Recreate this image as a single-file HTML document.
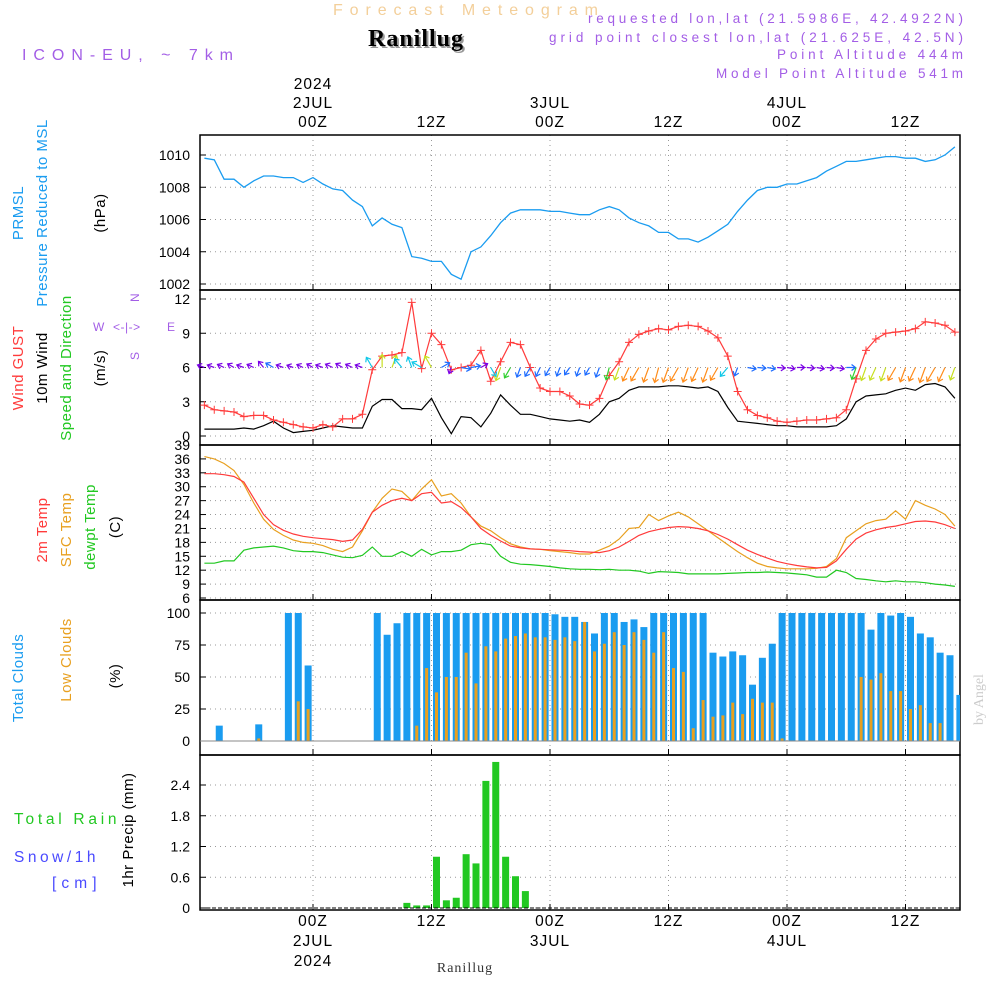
<!DOCTYPE html>
<html><head><meta charset="utf-8"><style>
body{margin:0;background:#fff;width:1000px;height:1000px;overflow:hidden}
svg{display:block;font-family:"Liberation Sans",sans-serif}
</style></head><body>
<svg id="chart" width="1000" height="1000" viewBox="0 0 1000 1000" xmlns="http://www.w3.org/2000/svg">
<text x="333" y="15" font-size="16" fill="#f3cf9a" textLength="265" lengthAdjust="spacing">Forecast Meteogram</text>
<text x="418" y="48" font-size="24" font-weight="bold" font-family="Liberation Serif,serif" fill="#999" text-anchor="middle" letter-spacing="1">Ranillug</text>
<text x="416" y="46" font-size="24" font-weight="bold" font-family="Liberation Serif,serif" fill="#000" text-anchor="middle" letter-spacing="1">Ranillug</text>
<text x="22" y="60" font-size="16" fill="#a35ee6" textLength="211" lengthAdjust="spacing">ICON-EU, ~ 7km</text>
<g font-size="13.5" fill="#a35ee6">
<text x="588" y="23" textLength="375" lengthAdjust="spacing">requested lon,lat (21.5986E, 42.4922N)</text>
<text x="549" y="42" textLength="414" lengthAdjust="spacing">grid point closest lon,lat (21.625E, 42.5N)</text>
<text x="777" y="59" textLength="186" lengthAdjust="spacing">Point Altitude 444m</text>
<text x="716" y="78" textLength="247" lengthAdjust="spacing">Model Point Altitude 541m</text>
</g>
<text transform="translate(983,725) rotate(-90)" font-size="14" font-family="Liberation Serif,serif" fill="#ccc">by Angel</text>
<text x="465" y="972" font-size="14" font-family="Liberation Serif,serif" fill="#333" text-anchor="middle" letter-spacing="1">Ranillug</text>
<g id="labels" font-size="14.5" letter-spacing="0.5"></g>
<g id="plots"></g>
</svg>
<script>
const hours = Array.from({length:77},(_,i)=>i-11);
const pressure=[1009.8,1009.7,1008.5,1008.5,1008.0,1008.4,1008.7,1008.7,1008.6,1008.6,1008.3,1008.6,1008.2,1007.9,1007.8,1007.2,1006.8,1005.6,1006.1,1005.7,1005.5,1003.7,1003.6,1003.4,1003.4,1002.6,1002.3,1004.0,1004.3,1005.0,1005.8,1006.4,1006.6,1006.6,1006.6,1006.5,1006.5,1006.4,1006.3,1006.3,1006.6,1006.8,1006.6,1006.1,1005.8,1005.6,1005.2,1005.2,1004.8,1004.8,1004.6,1004.9,1005.3,1005.7,1006.5,1007.2,1007.8,1008.0,1008.0,1008.2,1008.2,1008.4,1008.6,1009.0,1009.3,1009.6,1009.6,1009.7,1009.8,1009.9,1009.9,1009.8,1009.8,1009.6,1009.7,1010.0,1010.5];
const windSpeed=[0.6,0.6,0.6,0.6,0.7,0.6,0.9,1.3,0.7,0.3,0.4,0.5,0.7,0.9,0.8,0.7,0.7,2.6,3.2,3.2,2.4,2.4,2.3,3.3,1.6,0.2,1.7,1.6,0.8,2.0,3.6,2.7,1.9,1.9,1.7,1.5,1.4,1.3,1.4,1.2,1.9,3.0,3.3,4.0,4.3,4.3,4.3,4.4,4.4,4.3,4.2,4.3,3.9,2.5,1.3,1.2,1.1,1.0,0.9,0.9,0.8,0.8,0.8,0.8,0.9,1.5,3.0,3.5,3.6,3.7,4.0,4.2,4.0,4.5,4.6,4.3,3.3];
const windGust=[2.7,2.3,2.2,2.1,1.7,1.8,1.8,1.4,1.2,1.0,0.8,0.7,1.0,0.8,1.5,1.5,1.9,5.8,7.0,7.1,7.3,11.7,5.9,9.0,8.0,5.8,6.0,6.2,7.5,4.8,6.5,8.2,8.0,6.0,4.2,3.9,3.9,3.5,2.8,2.7,3.3,5.3,6.5,8.2,8.9,9.2,9.4,9.3,9.6,9.7,9.6,9.2,8.6,7.0,3.9,2.3,1.8,1.6,1.3,1.2,1.3,1.4,1.4,1.5,1.6,2.3,5.0,7.5,8.5,9.0,9.1,9.2,9.4,10.0,9.9,9.7,9.1];
const windToDir=[290,290,295,300,290,295,320,300,290,290,295,300,290,295,300,295,290,330,0,20,320,340,300,330,60,200,100,80,60,150,200,210,200,210,205,210,200,215,200,210,200,195,200,205,210,200,195,200,210,200,205,200,210,220,200,100,95,100,95,100,90,95,100,95,100,90,200,200,205,200,210,200,205,200,210,205,200];
const temp2m=[32.8,32.8,32.6,32.2,31,27.5,24,21.8,20.6,19.8,19.3,19,18.8,18.6,18.2,18.5,20.8,24.5,26,27,27.5,27,28.5,28.8,26.5,26.8,25.5,23.5,21,19.5,18.3,17.2,16.8,16.6,16.5,16.4,16.3,16.2,16,15.9,15.8,16.2,17,18.2,19.5,20.3,20.8,21.2,21.4,21.3,21,20.5,19.7,18.7,17.5,16.3,15.4,14.6,13.9,13.4,13,12.7,12.5,12.6,14,16.5,18.7,20,20.7,21.2,21.5,22,22.5,22.6,22.4,21.8,21];
const tempSfc=[36.5,36,35,33.5,30.5,26.5,23,20.8,19.5,18.5,18,17.8,17.3,16.5,16,17,20.5,24.5,27.5,29.5,29,27,29.5,31.5,28,28.5,26.5,23.5,21.5,20.5,19,17.7,17,16.6,16.5,16.2,16,15.8,15.5,15.5,16.3,17.2,18.7,21,21.2,24,22.7,23.7,24.5,23.5,22,20.5,19,17.5,16,14.7,13.5,12.8,12.5,12.3,12.3,12.3,12.4,12.8,14.5,19,20.5,22,22.7,23,24.8,23,27,26,25.2,24,21.5];
const dewpoint=[13.5,13.5,14,14,16.3,16.8,17,17.2,16.8,16.2,16,16,15.8,15.3,14.8,14.7,15.2,17,15,15,16,15,16.5,15.3,16,16,16.3,17.5,17.8,17.5,15,13.7,13.3,13.2,13,12.8,12.5,12.3,12.2,12.2,12.1,12.2,12,12,11.8,11.3,11.7,11.6,11.5,11.2,11.2,11.2,11.2,11.3,11.4,11.5,11.5,11.6,11.5,11.4,11.2,11,10.5,10.5,12,11.5,10.2,10,9.7,9.5,9.7,9.5,9.5,9.3,9,8.8,8.5];
const totalClouds=[0,12,0,0,0,13,0,0,100,100,59,0,0,0,0,0,0,100,83,92,100,100,100,100,100,100,100,100,100,100,100,100,100,100,100,99,97,97,93,84,100,100,93,95,89,100,100,100,100,100,100,69,66,70,67,44,65,76,100,100,100,100,100,100,100,100,100,87,100,98,100,97,84,81,69,67,36,46];
const lowClouds=[0,0,0,0,0,2,0,0,0,31,25,0,0,0,0,0,0,0,0,0,0,12,57,38,50,50,69,45,74,70,80,82,84,81,81,79,81,78,93,70,76,85,75,85,79,69,85,57,54,10,32,19,20,30,21,33,30,30,2,0,0,0,0,0,0,0,50,48,53,39,39,25,28,14,14,0,0,0];
const precip=[0,0,0,0,0,0,0,0,0,0,0,0,0,0,0,0,0,0,0,0,0.1,0.05,0.05,1.0,0.15,0.2,1.05,0.87,2.48,2.85,1.0,0.62,0.33,0,0,0,0,0,0,0,0,0,0,0,0,0,0,0,0,0,0,0,0,0,0,0,0,0,0,0,0,0,0,0,0,0,0,0,0,0,0,0,0,0,0,0,0];
const pressTicks=[1002,1004,1006,1008,1010];
const windTicks=[0,3,6,9,12];
const tempTicks=[6,9,12,15,18,21,24,27,30,33,36,39];
const cloudTicks=[0,25,50,75,100];
const precipTicks=[0,0.6,1.2,1.8,2.4];
const timeTicks=[{h:0,t:["2024","2JUL","00Z"],b:["00Z","2JUL","2024"]},{h:12,t:["12Z"],b:["12Z"]},{h:24,t:["3JUL","00Z"],b:["00Z","3JUL"]},{h:36,t:["12Z"],b:["12Z"]},{h:48,t:["4JUL","00Z"],b:["00Z","4JUL"]},{h:60,t:["12Z"],b:["12Z"]}];

const NS="http://www.w3.org/2000/svg";
const X0=200,X1=960;
const xs=h=>313+h*9.875;
function mk(tag,attrs,parent){const e=document.createElementNS(NS,tag);for(const k in attrs)e.setAttribute(k,attrs[k]);parent.appendChild(e);return e;}
const plots=document.getElementById('plots');
const labels=document.getElementById('labels');
const panels=[
 {name:'pressure',top:135,bot:290,v0:1002,y0:284,v1:1010,y1:155,ticks:pressTicks,fmt:v=>v},
 {name:'wind',top:290,bot:445,v0:0,y0:436,v1:12,y1:299,ticks:windTicks,fmt:v=>v},
 {name:'temp',top:445,bot:600,v0:6,y0:598,v1:39,y1:445,ticks:tempTicks,fmt:v=>v},
 {name:'clouds',top:600,bot:755,v0:0,y0:741,v1:100,y1:613,ticks:cloudTicks,fmt:v=>v},
 {name:'precip',top:755,bot:910,v0:0,y0:908,v1:2.4,y1:785,ticks:precipTicks,fmt:v=>v===0?'0':v.toFixed(1)}
];
panels.forEach(p=>{p.y=v=>p.y0+(v-p.v0)*(p.y1-p.y0)/(p.v1-p.v0);});
panels.forEach(p=>{
 const g=mk('g',{},plots);
 
 
 timeTicks.forEach(t=>{const l=mk('line',{x1:xs(t.h),x2:xs(t.h),y1:p.top,y2:p.bot,stroke:'#999','stroke-dasharray':'1,4'},g);
  });
 p.ticks.forEach(v=>{const y=p.y(v);
  const l=mk('line',{x1:X0,x2:X1,y1:y,y2:y,stroke:'#999','stroke-dasharray':'1,4'},g);
  
  mk('line',{x1:X0,x2:X0+6,y1:y,y2:y,stroke:'#000'},g);
  const t=mk('text',{x:190,y:y+5,'text-anchor':'end','font-size':14,fill:'#000'},g);
  t.textContent=p.fmt(v);
  
 });
 timeTicks.forEach(t=>{mk('line',{x1:xs(t.h),x2:xs(t.h),y1:p.bot,y2:p.bot-6,stroke:'#000'},g);});
 const r=mk('rect',{x:X0,y:p.top,width:X1-X0,height:p.bot-p.top,fill:'none',stroke:'#000','stroke-width':1.5},g);
 
});
function line(p,arr,color,name,w){
 const d=arr.map((v,i)=>(i?'L':'M')+xs(hours[i]).toFixed(1)+','+p.y(v).toFixed(1)).join('');
 const e=mk('path',{d:d,fill:'none',stroke:color,'stroke-width':w||1.2},plots);
 
 
 return e;
}
const [P,W,T,C,R]=panels;
line(P,pressure,'#1a9cf0','pressure-line',1.3);
line(W,windSpeed,'#000','wind-speed-line');
line(W,windGust,'#ff3b3b','wind-gust-line');
windGust.forEach((v,i)=>{const x=xs(hours[i]),y=W.y(v);
 const m=mk('path',{d:`M${x-4},${y}H${x+4}M${x},${y-4}V${y+4}`,stroke:'#ff3b3b','stroke-width':1},plots);
 });
function spdColor(s){return s<1?'#7a00e6':s<2?'#1e6cff':s<2.7?'#10c8e8':s<3.2?'#30d030':s<3.8?'#c8e020':'#ff8c1a';}
windToDir.forEach((d,i)=>{const x=xs(hours[i]),y=W.y(6),s=windSpeed[i];
 const L=6+s*2.2,a=d*Math.PI/180,dx=Math.sin(a),dy=-Math.cos(a);
 const x2=x+dx*L,y2=y+dy*L,c=spdColor(s);
 const hx1=x2-dx*4+dy*3,hy1=y2-dy*4-dx*3,hx2=x2-dx*4-dy*3,hy2=y2-dy*4+dx*3;
 const e=mk('path',{d:`M${x},${y}L${x2},${y2}M${hx1},${hy1}L${x2},${y2}L${hx2},${hy2}`,stroke:c,fill:'none','stroke-width':1.2},plots);
 });
line(T,tempSfc,'#e8a020','sfc-temp-line');
line(T,temp2m,'#ff3b3b','temp-2m-line');
line(T,dewpoint,'#22c822','dewpoint-line');
totalClouds.forEach((v,i)=>{const x=xs(i-11)+5;if(x>X1)return;
 const y=C.y(v),y0=C.y(0);
 if(v>0){const b=mk('rect',{x:x-3.5,y:y,width:Math.min(7,X1-(x-3.5)),height:y0-y,fill:'#1a9cf0'},plots);
 }
 const lv=lowClouds[i];if(lv>0){const ly=C.y(lv);
 const b2=mk('rect',{x:x-1.5,y:ly,width:3,height:y0-ly,fill:'#e8a020'},plots);
 }
});
mk('line',{x1:X0,x2:X1,y1:C.y(0),y2:C.y(0),stroke:'#888'},plots);
precip.forEach((v,i)=>{if(v<=0)return;const x=xs(i-11)+5,y=R.y(v),y0=R.y(0);
 const b=mk('rect',{x:x-3.5,y:y,width:7,height:y0-y,fill:'#22c822'},plots);
 });
mk('line',{x1:X0,x2:X1,y1:R.y(0),y2:R.y(0),stroke:'#000','stroke-dasharray':'4,2'},plots);
timeTicks.forEach(t=>{const x=xs(t.h);
 t.t.forEach((s,k)=>{const e=mk('text',{x:x,y:127-(t.t.length-1-k)*19,'text-anchor':'middle','font-size':15.5,fill:'#000','letter-spacing':1},labels);e.textContent=s;
  });
 t.b.forEach((s,k)=>{const e=mk('text',{x:x,y:926+k*20,'text-anchor':'middle','font-size':15.5,fill:'#000','letter-spacing':1},labels);e.textContent=s;
  });
});
const rot=[
 ['prmsl-label','PRMSL','#1a9cf0',23,213],['pressure-label','Pressure Reduced to MSL','#1a9cf0',47,213],['hpa-label','(hPa)','#000',105,213],
 ['gust-label','Wind GUST','#ff3b3b',23,368],['wind-label','10m Wind','#000',47,368],['speed-dir-label','Speed and Direction','#22c822',71,368],['ms-label','(m/s)','#000',105,368],
 ['temp2m-label','2m Temp','#ff3b3b',47,530],['sfc-label','SFC Temp','#e8a020',71,530],['dewpt-label','dewpt Temp','#22c822',95,527],['c-label','(C)','#000',120,527],
 ['total-clouds-label','Total Clouds','#1a9cf0',23,678],['low-clouds-label','Low Clouds','#e8a020',71,660],['pct-label','(%)','#000',120,676],
 ['precip-axis-label','1hr Precip (mm)','#000',133,830]];
rot.forEach(r=>{const e=mk('text',{transform:`translate(${r[3]},${r[4]}) rotate(-90)`,'text-anchor':'middle',fill:r[2],'font-size':15},labels);e.textContent=r[1];
 });
[['rain-label','Total  Rain','#22c822',14,824,103],['snow-label','Snow/1h','#4a4aff',14,862,82],['cm-label','[cm]','#4a4aff',52,888,45]].forEach(r=>{
 const e=mk('text',{x:r[3],y:r[4],fill:r[2],'font-size':15.5,textLength:r[5],lengthAdjust:'spacing','xml:space':'preserve'},labels);e.textContent=r[1];
 });
[['W',93,331],['<-|->',113,331],['E',167,331]].forEach(r=>{const e=mk('text',{x:r[1],y:r[2],fill:'#a35ee6','font-size':12},labels);e.textContent=r[0];
 });
[['N',139,302],['S',139,360]].forEach(r=>{const e=mk('text',{transform:`translate(${r[1]},${r[2]}) rotate(-90)`,fill:'#a35ee6','font-size':12},labels);e.textContent=r[0];
 });
</script>
</body></html>
